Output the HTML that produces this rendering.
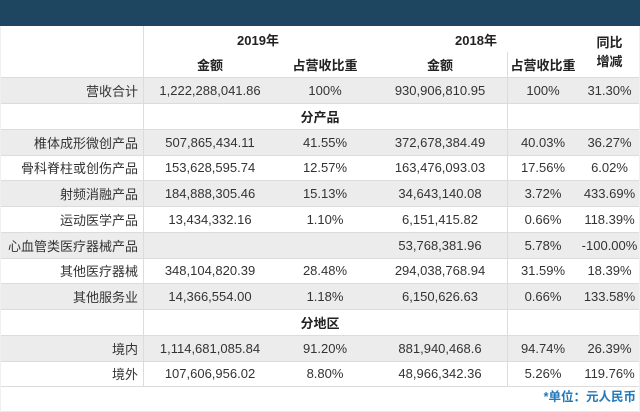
<!DOCTYPE html>
<html><head><meta charset="utf-8">
<style>
*{margin:0;padding:0;box-sizing:border-box}
html,body{width:640px;height:412px;overflow:hidden;background:#fff}
body{font-family:"Liberation Sans","Noto Sans CJK SC",sans-serif;font-size:13px;color:#333}
.wrap{position:relative;width:640px;height:412px}
.band{position:absolute;left:0;top:0;width:640px;height:26px;background:#1f4660}
.row{position:absolute;left:0;width:640px}
.g{background:#ececec}
.hl{position:absolute;left:0;width:640px;height:1px;background:#dcdcdc}
.vl{position:absolute;width:1px;background:#dcdcdc}
.c{position:absolute;top:0;height:100%;text-align:center;white-space:nowrap;display:flex;align-items:center;justify-content:center}
.lab{left:0;width:143px;justify-content:flex-end;padding-right:5px}
.c1{left:143px;width:134px}
.c2{left:277px;width:96px}
.c3{left:373px;width:134px}
.c4{left:507px;width:72px}
.c5{left:579px;width:61px}
.b{font-weight:bold;color:#222}
.full{left:0;width:640px}
.foot{position:absolute;right:4px;top:386px;height:22px;line-height:22px;font-weight:bold;font-size:12.5px;color:#2479b9}
</style></head><body><div class="wrap">
<div class="band"></div>

<div class="row" style="top:26px;height:26px">
  <div class="c b" style="left:143px;width:230px">2019年</div>
  <div class="c b" style="left:373px;width:206px">2018年</div>
</div>
<div class="row" style="top:52px;height:25px">
  <div class="c c1 b">金额</div>
  <div class="c c2 b">占营收比重</div>
  <div class="c c3 b">金额</div>
  <div class="c c4 b">占营收比重</div>
</div>
<div class="c b" style="left:579px;width:61px;top:26px;height:51px;flex-direction:column;line-height:19px">同比<br>增减</div>

<div class="row g" style="top:77px;height:26px">
  <div class="c lab">营收合计</div><div class="c c1">1,222,288,041.86</div><div class="c c2">100%</div><div class="c c3">930,906,810.95</div><div class="c c4">100%</div><div class="c c5">31.30%</div>
</div>
<div class="row" style="top:103px;height:26px">
  <div class="c full b">分产品</div>
</div>
<div class="row g" style="top:129px;height:26px">
  <div class="c lab">椎体成形微创产品</div><div class="c c1">507,865,434.11</div><div class="c c2">41.55%</div><div class="c c3">372,678,384.49</div><div class="c c4">40.03%</div><div class="c c5">36.27%</div>
</div>
<div class="row" style="top:155px;height:25px">
  <div class="c lab">骨科脊柱或创伤产品</div><div class="c c1">153,628,595.74</div><div class="c c2">12.57%</div><div class="c c3">163,476,093.03</div><div class="c c4">17.56%</div><div class="c c5">6.02%</div>
</div>
<div class="row g" style="top:180px;height:26px">
  <div class="c lab">射频消融产品</div><div class="c c1">184,888,305.46</div><div class="c c2">15.13%</div><div class="c c3">34,643,140.08</div><div class="c c4">3.72%</div><div class="c c5">433.69%</div>
</div>
<div class="row" style="top:206px;height:26px">
  <div class="c lab">运动医学产品</div><div class="c c1">13,434,332.16</div><div class="c c2">1.10%</div><div class="c c3">6,151,415.82</div><div class="c c4">0.66%</div><div class="c c5">118.39%</div>
</div>
<div class="row g" style="top:232px;height:26px">
  <div class="c lab">心血管类医疗器械产品</div><div class="c c3">53,768,381.96</div><div class="c c4">5.78%</div><div class="c c5">-100.00%</div>
</div>
<div class="row" style="top:258px;height:25px">
  <div class="c lab">其他医疗器械</div><div class="c c1">348,104,820.39</div><div class="c c2">28.48%</div><div class="c c3">294,038,768.94</div><div class="c c4">31.59%</div><div class="c c5">18.39%</div>
</div>
<div class="row g" style="top:283px;height:26px">
  <div class="c lab">其他服务业</div><div class="c c1">14,366,554.00</div><div class="c c2">1.18%</div><div class="c c3">6,150,626.63</div><div class="c c4">0.66%</div><div class="c c5">133.58%</div>
</div>
<div class="row" style="top:309px;height:26px">
  <div class="c full b">分地区</div>
</div>
<div class="row g" style="top:335px;height:26px">
  <div class="c lab">境内</div><div class="c c1">1,114,681,085.84</div><div class="c c2">91.20%</div><div class="c c3">881,940,468.6</div><div class="c c4">94.74%</div><div class="c c5">26.39%</div>
</div>
<div class="row" style="top:361px;height:25px">
  <div class="c lab">境外</div><div class="c c1">107,606,956.02</div><div class="c c2">8.80%</div><div class="c c3">48,966,342.36</div><div class="c c4">5.26%</div><div class="c c5">119.76%</div>
</div>

<div class="hl" style="top:77px"></div>
<div class="hl" style="top:103px"></div>
<div class="hl" style="top:129px"></div>
<div class="hl" style="top:155px"></div>
<div class="hl" style="top:180px"></div>
<div class="hl" style="top:206px"></div>
<div class="hl" style="top:232px"></div>
<div class="hl" style="top:258px"></div>
<div class="hl" style="top:283px"></div>
<div class="hl" style="top:309px"></div>
<div class="hl" style="top:335px"></div>
<div class="hl" style="top:361px"></div>
<div class="hl" style="top:386px"></div>
<div class="hl" style="top:411px;background:#e8e8e8"></div>

<div class="vl" style="left:143px;top:26px;height:360px"></div>
<div class="vl" style="left:507px;top:52px;height:334px"></div>
<div class="vl" style="left:0;top:26px;height:386px;background:#f0f0f0"></div>
<div class="vl" style="left:639px;top:26px;height:386px;background:#f0f0f0"></div>

<div class="foot">*单位：元人民币</div>
</div></body></html>
